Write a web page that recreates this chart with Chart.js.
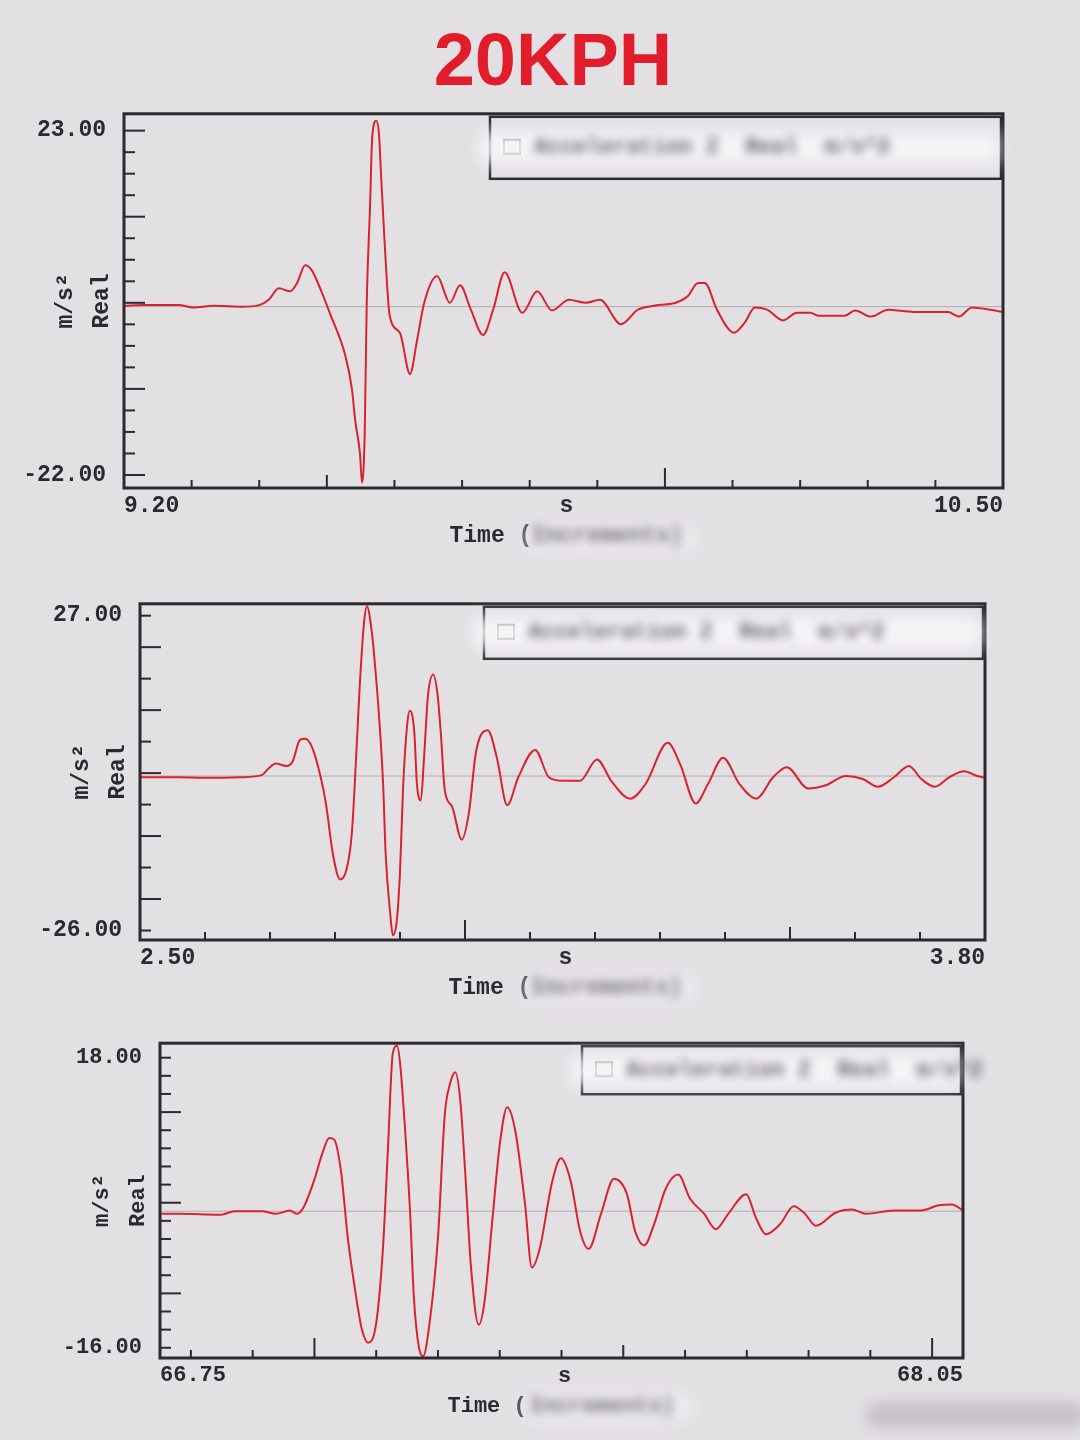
<!DOCTYPE html>
<html>
<head>
<meta charset="utf-8">
<title>20KPH</title>
<script src="https://cdn.jsdelivr.net/npm/chart.js@4.4.1/dist/chart.umd.min.js"></script>
<style>
  html, body { margin: 0; padding: 0; }
  body { width: 1080px; height: 1440px; background: #e3e0e4; position: relative; overflow: hidden; }
  #title { position: absolute; left: 13px; top: 23px; width: 1080px; text-align: center;
           font: bold 74px/74px "Liberation Sans", Arial, sans-serif; color: #e11d2c; }
  canvas { position: absolute; left: 0; }
  #chart1 { top: 90px; }
  #chart2 { top: 580px; }
  #chart3 { top: 1020px; }
  #smudge { position: absolute; left: 865px; top: 1402px; width: 220px; height: 26px;
            background: #b9b5bc; border-radius: 13px; filter: blur(7px); opacity: 0.7; }
</style>
</head>
<body>
<div id="title">20KPH</div>
<canvas id="chart1" width="1080" height="490"></canvas>
<canvas id="chart2" width="1080" height="440"></canvas>
<canvas id="chart3" width="1080" height="420"></canvas>
<div id="smudge"></div>

<script>
// top panel, 9.20 - 10.50 s
const time1 = [9.200, 9.231, 9.281, 9.302, 9.333, 9.373, 9.400, 9.414, 9.429, 9.446,
    9.456, 9.468, 9.478, 9.491, 9.506, 9.527, 9.537, 9.542, 9.549, 9.552,
    9.556, 9.559, 9.564, 9.567, 9.573, 9.577, 9.580, 9.585, 9.593, 9.608,
    9.623, 9.633, 9.644, 9.663, 9.682, 9.697, 9.713, 9.731, 9.746, 9.763,
    9.789, 9.811, 9.833, 9.858, 9.883, 9.904, 9.935, 9.960, 9.991, 10.016,
    10.034, 10.049, 10.059, 10.077, 10.102, 10.118, 10.133, 10.151, 10.175, 10.195,
    10.215, 10.228, 10.266, 10.281, 10.305, 10.330, 10.368, 10.419, 10.435, 10.454,
    10.481, 10.500];
const accel1 = [0.1, 0.2, 0.2, -0.1, 0.1, 0.0, 0.2, 0.9, 2.4, 2.0,
    3.1, 5.4, 4.7, 2.2, -1.2, -6.3, -10.7, -14.9, -19.2, -23.0,
    -16.6, 0.5, 13.4, 22.0, 24.3, 22.7, 17.6, 9.1, -1.2, -3.4,
    -8.8, -4.6, 0.5, 4.0, 0.5, 2.8, -0.4, -3.7, -0.4, 4.5,
    -0.8, 2.0, -0.5, 0.9, 0.5, 0.9, -2.3, -0.4, 0.2, 0.5,
    1.4, 3.1, 3.1, -0.4, -3.4, -2.1, -0.1, -0.4, -1.8, -0.8,
    -0.8, -1.2, -1.2, -0.5, -1.3, -0.4, -0.7, -0.7, -1.3, -0.1,
    -0.4, -0.7];
const xLabels1 = [9.20, 10.50];
const yLabels1 = [23, -22];

// middle panel, 2.50 - 3.80 s
const time2 = [2.500, 2.560, 2.603, 2.655, 2.688, 2.698, 2.709, 2.725, 2.735, 2.746,
    2.754, 2.765, 2.778, 2.786, 2.797, 2.808, 2.818, 2.826, 2.834, 2.838,
    2.845, 2.849, 2.857, 2.863, 2.868, 2.874, 2.878, 2.885, 2.889, 2.895,
    2.900, 2.905, 2.911, 2.915, 2.922, 2.926, 2.932, 2.937, 2.943, 2.951,
    2.958, 2.963, 2.969, 2.980, 2.995, 3.006, 3.017, 3.035, 3.049, 3.065,
    3.082, 3.108, 3.129, 3.151, 3.177, 3.203, 3.225, 3.254, 3.278, 3.312,
    3.331, 3.355, 3.374, 3.397, 3.422, 3.448, 3.474, 3.495, 3.528, 3.554,
    3.586, 3.612, 3.635, 3.660, 3.683, 3.702, 3.723, 3.745, 3.768, 3.788,
    3.800];
const accel2 = [-0.2, -0.2, -0.3, -0.2, 0.2, 1.3, 2.1, 1.7, 2.5, 6.1,
    6.3, 4.8, -0.2, -4.6, -13.3, -17.4, -15.6, -9.5, 6.4, 15.1,
    26.2, 28.6, 23.9, 16.8, 9.7, -1.3, -13.3, -23.2, -26.8, -24.4,
    -16.1, -1.3, 8.6, 11.0, 7.4, -1.3, -4.1, 3.1, 13.5, 17.1,
    13.5, 6.9, -2.5, -5.1, -10.7, -6.2, 4.1, 7.7, 3.1, -4.9,
    -0.2, 4.4, -0.2, -0.8, -0.8, 2.8, -0.8, -3.8, -1.3, 5.6,
    2.0, -4.6, -1.3, 3.1, -1.3, -3.8, -0.2, 1.5, -2.1, -1.6,
    0.0, -0.5, -1.8, -0.2, 1.7, -0.5, -1.8, -0.2, 0.8, 0.0,
    -0.3];
const xLabels2 = [2.50, 3.80];
const yLabels2 = [27, -26];

// bottom panel, 66.75 - 68.05 s
const time3 = [66.750, 66.781, 66.849, 66.870, 66.915, 66.938, 66.960, 66.972, 66.982, 66.999,
    67.012, 67.024, 67.032, 67.043, 67.054, 67.066, 67.077, 67.087, 67.100, 67.111,
    67.119, 67.127, 67.134, 67.139, 67.147, 67.155, 67.161, 67.169, 67.176, 67.185,
    67.200, 67.211, 67.219, 67.228, 67.236, 67.245, 67.253, 67.266, 67.275, 67.289,
    67.300, 67.312, 67.325, 67.341, 67.352, 67.365, 67.385, 67.399, 67.415, 67.430,
    67.444, 67.464, 67.485, 67.506, 67.519, 67.534, 67.550, 67.569, 67.589, 67.608,
    67.631, 67.650, 67.670, 67.699, 67.715, 67.731, 67.754, 67.776, 67.793, 67.812,
    67.843, 67.870, 67.893, 67.938, 67.982, 68.011, 68.032, 68.050];
const accel3 = [-0.3, -0.3, -0.4, 0.0, 0.0, -0.3, 0.1, -0.3, 0.4, 3.5,
    6.6, 8.6, 8.4, 4.7, -3.1, -9.3, -13.9, -15.4, -13.1, -4.3,
    7.3, 18.6, 19.4, 17.1, 9.3, -0.3, -10.1, -15.9, -17.0, -13.9,
    -3.1, 11.3, 14.8, 16.3, 13.1, 3.5, -6.1, -13.3, -10.8, -0.3,
    7.8, 12.2, 9.5, 0.8, -6.6, -4.3, 3.5, 6.2, 3.5, -2.3,
    -4.4, -0.3, 3.8, 2.0, -2.3, -4.0, -1.5, 2.7, 4.3, 1.5,
    -0.3, -2.1, -0.3, 2.0, -0.8, -2.7, -1.5, 0.6, -0.2, -1.7,
    -0.2, 0.2, -0.3, 0.1, 0.1, 0.7, 0.8, 0.1];
const xLabels3 = [66.75, 68.05];
const yLabels3 = [18, -16];

const RED = '#d8232e';
const INK = '#2c2a2e';
const MONO = '"Liberation Mono", "DejaVu Sans Mono", monospace';

const panels = [
    { canvas: 'chart1', time: time1, accel: accel1, xLabels: xLabels1, yLabels: yLabels1,
      yMin: -23.7, yMax: 25.2, ySteps: 16, yLong: [0, 4, 8, 12, 16],
      padTop: 18, padRight: 77, axisW: 124, axisH: 92, legendLeft: 490, legendH: 62, fontSize: 23 },
    { canvas: 'chart2', time: time2, accel: accel2, xLabels: xLabels2, yLabels: yLabels2,
      yMin: -27.6, yMax: 29.0, ySteps: 10, yLong: [1, 3, 5, 7, 9],
      padTop: 16, padRight: 95, axisW: 140, axisH: 80, legendLeft: 484, legendH: 52, fontSize: 23 },
    { canvas: 'chart3', time: time3, accel: accel3, xLabels: xLabels3, yLabels: yLabels3,
      yMin: -17.2, yMax: 19.7, ySteps: 16, yLong: [3, 8, 13],
      padTop: 20, padRight: 117, axisW: 160, axisH: 82, legendLeft: 582, legendH: 48, fontSize: 22 }
];

// frame, inward tick marks, legend box and axis titles like the analyser screen
function screenPlugin(p) {
    return {
        id: 'screen',
        beforeDatasetsDraw(chart) {
            const { ctx, chartArea: a } = chart;
            const y0 = chart.scales.y.getPixelForValue(0);
            ctx.save();
            ctx.strokeStyle = 'rgba(115, 110, 118, 0.45)';
            ctx.lineWidth = 1;
            ctx.beginPath();
            ctx.moveTo(a.left, y0);
            ctx.lineTo(a.right, y0);
            ctx.stroke();
            ctx.restore();
        },
        afterDatasetsDraw(chart) {
            const { ctx, chartArea: a, scales: { x, y } } = chart;
            ctx.save();
            ctx.strokeStyle = INK;
            ctx.lineWidth = 3;
            ctx.strokeRect(a.left, a.top, a.right - a.left, a.bottom - a.top);

            // y ticks split the labelled range evenly
            ctx.lineWidth = 2;
            const [yTop, yBottom] = p.yLabels;
            for (let i = 0; i <= p.ySteps; i++) {
                const py = y.getPixelForValue(yTop + (yBottom - yTop) * i / p.ySteps);
                const len = p.yLong.includes(i) ? 21 : 11;
                ctx.beginPath();
                ctx.moveTo(a.left, py);
                ctx.lineTo(a.left + len, py);
                ctx.stroke();
            }
            // x ticks every 0.1 s
            for (let k = Math.ceil(x.min * 10 + 0.01); k < x.max * 10 - 0.01; k++) {
                const px = x.getPixelForValue(k / 10);
                const len = k % 10 === 0 ? 20 : (k % 5 === 0 ? 13 : 8);
                ctx.beginPath();
                ctx.moveTo(px, a.bottom);
                ctx.lineTo(px, a.bottom - len);
                ctx.stroke();
            }

            // legend box, its text was blurred out in the photo
            const lx = p.legendLeft, ly = a.top + 3;
            const lw = a.right - 2 - lx, lh = p.legendH;
            ctx.lineWidth = 2.5;
            ctx.strokeRect(lx, ly, lw, lh);
            ctx.lineWidth = 2;
            ctx.strokeRect(lx + 14, ly + lh / 2 - 8, 16, 14);
            ctx.filter = 'blur(8px)';
            ctx.fillStyle = 'rgba(248, 246, 249, 0.9)';
            ctx.fillRect(lx - 10, ly + lh / 2 - 16, lw + 8, 32);
            ctx.filter = 'blur(5px)';
            ctx.fillStyle = '#5f5a66';
            ctx.font = 'bold 22px ' + MONO;
            ctx.textBaseline = 'middle';
            ctx.fillText(chart.data.datasets[0].label, lx + 44, ly + lh / 2);
            ctx.filter = 'none';
            ctx.restore();
        },
        afterDraw(chart) {
            const { ctx, chartArea: a } = chart;
            const cx = (a.left + a.right) / 2;
            ctx.save();
            ctx.fillStyle = INK;
            ctx.font = 'bold ' + p.fontSize + 'px ' + MONO;
            ctx.textBaseline = 'middle';
            ctx.textAlign = 'center';
            ctx.fillText('s', cx + 3, a.bottom + 18);
            ctx.textAlign = 'left';
            const tx = cx - 114;
            ctx.fillText('Time (', tx, a.bottom + 48);
            ctx.filter = 'blur(8px)';
            ctx.fillStyle = 'rgba(238, 236, 240, 0.9)';
            ctx.fillRect(tx + 76, a.bottom + 36, 170, 26);
            ctx.filter = 'blur(5px)';
            ctx.fillStyle = '#6e6974';
            ctx.fillText('Increments)', tx + 82, a.bottom + 48);
            ctx.filter = 'none';

            // y titles, rotated
            ctx.fillStyle = INK;
            ctx.textAlign = 'center';
            const cy = (a.top + a.bottom) / 2;
            [['m/s\u00b2', 58], ['Real', 22]].forEach(([text, off]) => {
                ctx.save();
                ctx.translate(a.left - off, cy);
                ctx.rotate(-Math.PI / 2);
                ctx.fillText(text, 0, 0);
                ctx.restore();
            });
            ctx.restore();
        }
    };
}

panels.forEach(p => {
    const tickFont = { family: MONO, size: p.fontSize, weight: 'bold' };
    new Chart(document.getElementById(p.canvas), {
        type: 'line',
        data: {
            datasets: [{
                label: 'Acceleration Z  Real  m/s^2',
                data: p.time.map((t, i) => ({ x: t, y: p.accel[i] })),
                borderColor: RED,
                borderWidth: 2,
                pointRadius: 0,
                cubicInterpolationMode: 'monotone',
                fill: false
            }]
        },
        options: {
            responsive: false,
            animation: false,
            layout: { padding: { top: p.padTop, right: p.padRight, left: 0, bottom: 0 } },
            plugins: { legend: { display: false }, tooltip: { enabled: false } },
            scales: {
                x: {
                    type: 'linear',
                    min: p.xLabels[0],
                    max: p.xLabels[1],
                    bounds: 'data',
                    grid: { display: false },
                    border: { display: false },
                    afterBuildTicks: s => { s.ticks = p.xLabels.map(v => ({ value: v })); },
                    afterFit: s => { s.height = p.axisH; },
                    ticks: {
                        align: 'inner', maxRotation: 0, autoSkip: false, padding: -4,
                        color: INK, font: tickFont,
                        callback: v => Number(v).toFixed(2)
                    }
                },
                y: {
                    min: p.yMin,
                    max: p.yMax,
                    bounds: 'data',
                    grid: { display: false },
                    border: { display: false },
                    afterBuildTicks: s => { s.ticks = p.yLabels.map(v => ({ value: v })); },
                    afterFit: s => { s.width = p.axisW; },
                    ticks: {
                        padding: 10, color: INK, font: tickFont,
                        callback: v => Number(v).toFixed(2)
                    }
                }
            }
        },
        plugins: [screenPlugin(p)]
    });
});
</script>
</body>
</html>
